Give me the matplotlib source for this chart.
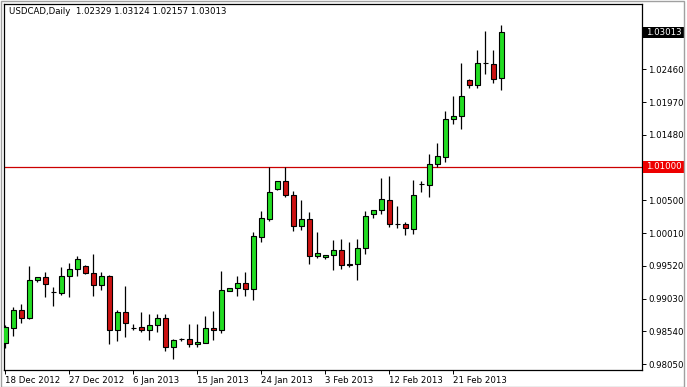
import matplotlib
matplotlib.use("Agg")
import matplotlib.pyplot as plt
from matplotlib.patches import Rectangle
from matplotlib.transforms import blended_transform_factory

symbol_title = "USDCAD,Daily  1.02329 1.03124 1.02157 1.03013"

opens = [0.98358, 0.98595, 0.98863, 0.98734, 0.99303, 0.99353, 0.99126, 0.99116, 0.99362, 0.99472,
         0.99521, 0.99413, 0.99234, 0.99373, 0.98555, 0.98823, 0.98591, 0.98600, 0.98566, 0.98640,
         0.98744, 0.98307, 0.98420, 0.98432, 0.98343, 0.98367, 0.98595, 0.98566, 0.99145, 0.99190,
         0.99269, 0.99175, 0.99957, 1.00220, 1.00676, 1.00795, 1.00587, 1.00116, 1.00215, 0.99665,
         0.99648, 0.99680, 0.99754, 0.99543, 0.99546, 0.99784, 1.00289, 1.00349, 1.00512, 1.00148,
         1.00141, 1.00075, 1.00741, 1.00735, 1.01047, 1.01156, 1.01716, 1.01761, 1.02296, 1.02221,
         1.02560, 1.02542, 1.02329]
highs = [0.98630, 0.98902, 0.98942, 0.99521, 0.99353, 0.99432, 0.99199, 0.99496, 0.99561, 0.99670,
         0.99536, 0.99695, 0.99422, 0.99380, 0.98852, 0.99224, 0.98644, 0.98823, 0.98803, 0.98793,
         0.98793, 0.98429, 0.98436, 0.98644, 0.98644, 0.98763, 0.98838, 0.99447, 0.99194, 0.99373,
         0.99432, 1.00026, 1.00338, 1.00992, 1.00795, 1.00992, 1.00646, 1.00512, 1.00324, 1.00026,
         0.99686, 0.99908, 0.99922, 0.99878, 0.99918, 1.00338, 1.00353, 1.00833, 1.00859, 1.00423,
         1.00175, 1.00810, 1.00795, 1.01190, 1.01364, 1.01839, 1.02062, 1.02557, 1.02319, 1.02756,
         1.03028, 1.02756, 1.03124]
lows = [0.98288, 0.98471, 0.98664, 0.98723, 0.99273, 0.99050, 0.98916, 0.99086, 0.99050, 0.99373,
        0.99402, 0.99065, 0.99165, 0.98343, 0.98396, 0.98456, 0.98566, 0.98526, 0.98417, 0.98530,
        0.98248, 0.98124, 0.98399, 0.98298, 0.98298, 0.98358, 0.98407, 0.98515, 0.99145, 0.99065,
        0.99065, 0.99011, 0.99882, 1.00190, 1.00655, 1.00551, 1.00041, 1.00061, 0.99546, 0.99636,
        0.99615, 0.99457, 0.99472, 0.99506, 0.99309, 0.99695, 1.00239, 1.00298, 1.00105, 1.00090,
        0.99977, 1.00001, 1.00631, 1.00551, 1.00997, 1.01071, 1.01636, 1.01567, 1.02186, 1.02186,
        1.02394, 1.02260, 1.02157]
closes = [0.98604, 0.98863, 0.98744, 0.99309, 0.99353, 0.99249, 0.99122, 0.99373, 0.99472, 0.99621,
          0.99413, 0.99234, 0.99368, 0.98555, 0.98823, 0.98670, 0.98587, 0.98566, 0.98640, 0.98744,
          0.98310, 0.98417, 0.98425, 0.98343, 0.98377, 0.98595, 0.98566, 0.99160, 0.99194, 0.99269,
          0.99175, 0.99962, 1.00230, 1.00631, 1.00795, 1.00587, 1.00116, 1.00215, 0.99665, 0.99714,
          0.99680, 0.99754, 0.99532, 0.99538, 0.99784, 1.00260, 1.00349, 1.00527, 1.00141, 1.00143,
          1.00081, 1.00587, 1.00747, 1.01044, 1.01171, 1.01716, 1.01761, 1.02058, 1.02221, 1.02557,
          1.02554, 1.02319, 1.03013]

date_tick_bars = [0, 8, 16, 24, 32, 40, 48, 56]
date_tick_labels = ["18 Dec 2012", "27 Dec 2012", "6 Jan 2013", "15 Jan 2013",
                    "24 Jan 2013", "3 Feb 2013", "12 Feb 2013", "21 Feb 2013"]
price_ticks = [0.98050, 0.98540, 0.99030, 0.99520, 1.00010, 1.00500, 1.00990,
               1.01480, 1.01970, 1.02460, 1.02950]
hidden_tick_labels = [1.00990, 1.02950]  # covered by the price boxes in the reference
level_line = 1.01000
last_price = 1.03013

W, H = 687, 387
fig = plt.figure(figsize=(W / 100, H / 100), dpi=100)
fig.patch.set_facecolor("white")
ax = fig.add_axes([4 / W, 17 / H, 638 / W, 366 / H])
ax.set_facecolor("white")

bull = "#22DD22"
bear = "#CC1111"
xs = list(range(len(opens)))
for i in xs:
    o, h, l, c = opens[i], highs[i], lows[i], closes[i]
    ax.vlines(i, l, h, color="black", linewidth=0.9, zorder=2)
    col = bull if c >= o else bear
    lo = min(o, c)
    ht = abs(c - o)
    ax.bar(i, ht, bottom=lo, width=0.58, color=col, edgecolor="black",
           linewidth=0.8, zorder=3)

ax.axhline(level_line, color="#CC0000", linewidth=0.9, zorder=1)

ax.set_xlim(-0.1625, 79.59)
ax.set_ylim(0.979608, 1.034392)

for s in ax.spines.values():
    s.set_color("black")
    s.set_linewidth(0.9)

ax.yaxis.tick_right()
ax.set_yticks(price_ticks)
ax.set_yticklabels(["" if any(abs(p - q) < 1e-9 for q in hidden_tick_labels) else f"{p:.5f}"
                    for p in price_ticks])
ax.tick_params(axis="y", direction="out", length=3, width=0.7, pad=1.5,
               labelsize=6.2, colors="black")
ax.set_xticks(date_tick_bars)
ax.set_xticklabels(date_tick_labels, ha="left")
ax.tick_params(axis="x", direction="out", length=3, width=0.7, pad=1.5,
               labelsize=6.2, colors="black")

tr = blended_transform_factory(ax.transAxes, ax.transData)
bw = 41 / 638
bh = 11.5 / 6730
ax.add_patch(Rectangle((1.0015, last_price - bh / 2), bw, bh, transform=tr,
                       facecolor="black", edgecolor="none", clip_on=False, zorder=5))
ax.text(1.0015 + bw / 2, last_price, f"{last_price:.5f}", transform=tr, color="white",
        fontsize=6.2, ha="center", va="center", clip_on=False, zorder=6)
ax.add_patch(Rectangle((1.0015, level_line - bh / 2), bw, bh, transform=tr,
                       facecolor="#EE0000", edgecolor="none", clip_on=False, zorder=5))
ax.text(1.0015 + bw / 2, level_line, f"{level_line:.5f}", transform=tr, color="white",
        fontsize=6.2, ha="center", va="center", clip_on=False, zorder=6)

fig.text(9 / W, 1 - 12 / H, symbol_title, fontsize=6.2, ha="left", va="center", color="black")

# outer window frame
fig.add_artist(Rectangle((0.5 / W, 0.5 / H), (W - 4) / W, (H - 1.5) / H,
                         transform=fig.transFigure, facecolor="none",
                         edgecolor="#A0A0A0", linewidth=1.0))

fig.savefig("out.png", dpi=100)
